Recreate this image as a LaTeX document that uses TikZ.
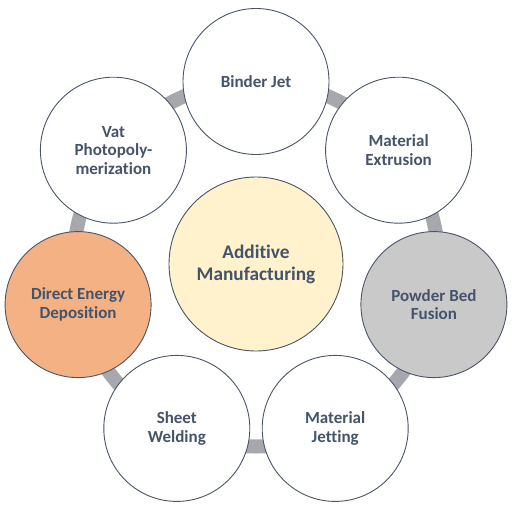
\documentclass[tikz,border=0pt]{standalone}
\usepackage{fontspec}
\setmainfont{Carlito}[Ligatures=NoCommon]
\definecolor{txt}{HTML}{44546A}
\definecolor{edge}{HTML}{4A5568}
\definecolor{bar}{HTML}{A6A8AD}
\definecolor{orangefill}{HTML}{F4B183}
\definecolor{grayfill}{HTML}{C9C9C9}
\definecolor{yellowfill}{HTML}{FFF2CC}
\begin{document}
\begin{tikzpicture}[x=1pt,y=-1pt,
  circ/.style={circle,draw=edge,line width=0.9pt,fill=white,minimum size=146pt,inner sep=0pt,align=center,
    font=\fontsize{17}{18.5}\selectfont\bfseries,text=txt},
  link/.style={draw=bar,line width=14pt}]
\useasboundingbox (0,0) rectangle (512,512);
\coordinate (o) at (256,264);
\def\R{182.5}
% positions on a ring of radius 182.5 around (256,264), y axis points down
\coordinate (cB) at (256,81.5);
\coordinate (cE) at (398.6,150.2);
\coordinate (cP) at (433.9,304.6);
\coordinate (cJ) at (335.2,428.4);
\coordinate (cS) at (176.8,428.4);
\coordinate (cD) at (78.1,304.6);
\coordinate (cV) at (113.4,150.2);
\draw[link] (o) circle[radius=\R];
\node[circ] (binder) at (cB) {Binder Jet};
\node[circ] (extr) at (cE) {Material\\Extrusion};
\node[circ,fill=grayfill] (powder) at (cP) {Powder Bed\\Fusion};
\node[circ] (jet) at (cJ) {Material\\Jetting};
\node[circ] (sheet) at (cS) {Sheet\\Welding};
\node[circ,fill=orangefill] (ded) at (cD) {Direct Energy\\Deposition};
\node[circ] (vat) at (cV) {Vat\\Photopoly-\\merization};
\node[circ,fill=yellowfill,minimum size=174pt,font=\fontsize{19.3}{22}\selectfont\bfseries] (am) at (o) {Additive\\Manufacturing};
\end{tikzpicture}
\end{document}
